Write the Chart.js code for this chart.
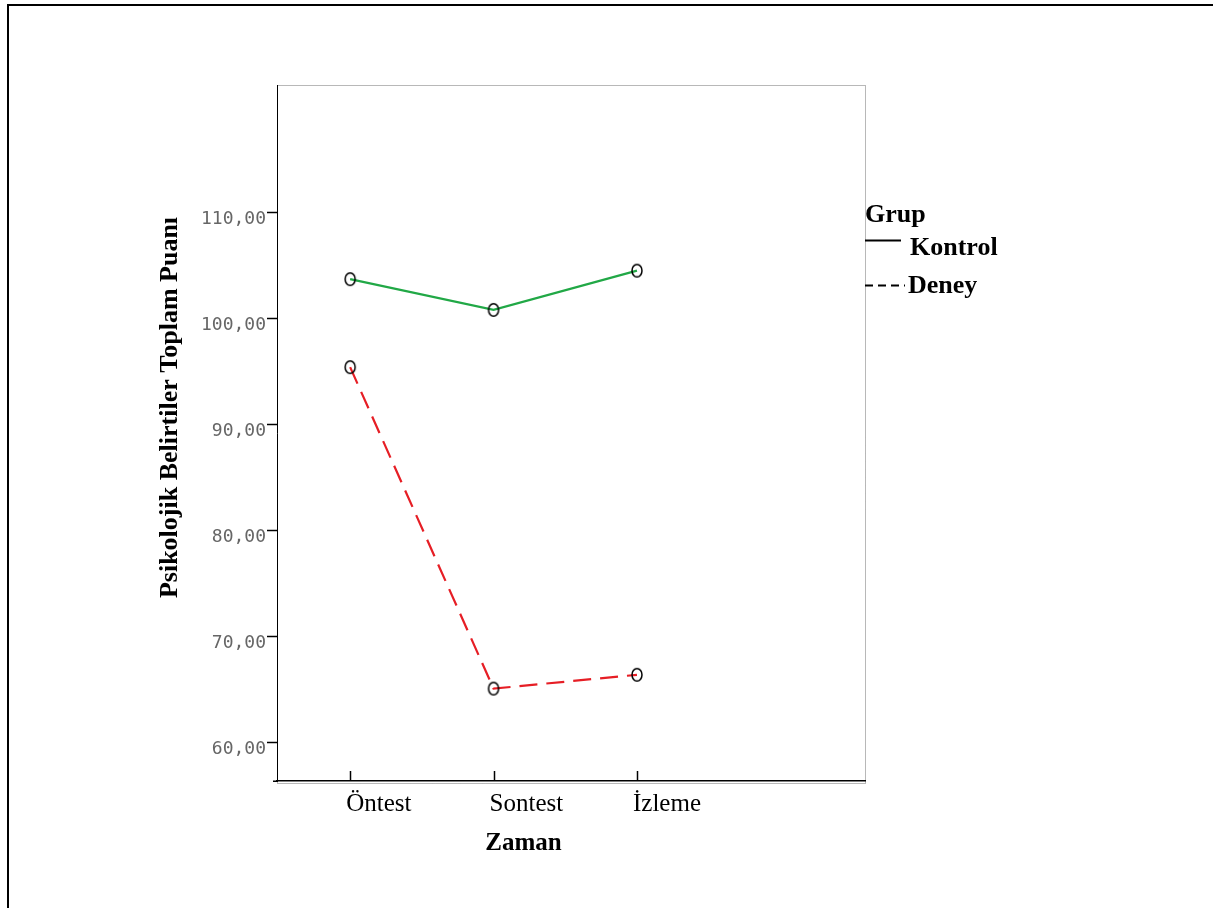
<!DOCTYPE html>
<html>
<head>
<meta charset="utf-8">
<script src="https://cdn.jsdelivr.net/npm/chart.js@4.4.1/dist/chart.umd.min.js"></script>
<style>
  html, body { margin: 0; padding: 0; background: #fff; }
  #wrap { position: relative; width: 1213px; height: 908px; overflow: hidden; }
  #frame { position: absolute; left: 7px; top: 4px; right: -5px; bottom: -5px;
           border-top: 2px solid #000; border-left: 2px solid #000; pointer-events: none; }
  canvas { position: absolute; left: 0; top: 0; }
</style>
</head>
<body>
<div id="wrap">
  <canvas id="c" width="1213" height="908"></canvas>
  <div id="frame"></div>
</div>
<script>
// ---- data ----
const categories = ['Öntest', 'Sontest', 'İzleme'];
const kontrol = [103.7, 100.8, 104.5];
const deney = [95.4, 65.1, 66.4];
const yTicks = [60, 70, 80, 90, 100, 110];
const seriesLabels = ['Kontrol', 'Deney'];
const legendTitle = 'Grup';
const xTitle = 'Zaman';
const yTitle = 'Psikolojik Belirtiler Toplam Puanı';

// ---- marker (open ellipse) ----
function makeMarker() {
  const m = document.createElement('canvas');
  m.width = 16; m.height = 18;
  const g = m.getContext('2d');
  g.strokeStyle = '#000';
  g.lineWidth = 1.5;
  g.beginPath();
  g.ellipse(8, 9, 5, 6.3, 0, 0, Math.PI * 2);
  g.stroke();
  return m;
}
const marker = makeMarker();

const serif = "'Liberation Serif', 'Times New Roman', serif";

const decorPlugin = {
  id: 'decor',
  beforeDraw(chart) {
    const { ctx, chartArea: ca } = chart;
    ctx.save();
    ctx.strokeStyle = '#707070';
    ctx.lineWidth = 1;
    ctx.setLineDash([1, 1]);
    ctx.strokeRect(ca.left + 0.5, ca.top + 0.5, ca.right - ca.left, ca.bottom - ca.top + 2);
    ctx.restore();
  },
  afterDraw(chart) {
    const { ctx, chartArea: ca } = chart;
    const xs = chart.scales.x;
    ctx.save();
    // x axis line slightly extended to the left, as in the reference
    ctx.strokeStyle = '#000';
    ctx.lineWidth = 1.5;
    ctx.beginPath();
    ctx.moveTo(ca.left - 4, ca.bottom + 0.25);
    ctx.lineTo(ca.left, ca.bottom + 0.25);
    ctx.stroke();
    // inward x tick marks
    categories.forEach((c, i) => {
      const px = Math.round(xs.getPixelForValue(i)) + 0.5;
      ctx.beginPath();
      ctx.moveTo(px, ca.bottom - 10);
      ctx.lineTo(px, ca.bottom);
      ctx.stroke();
    });

    // x title centred under the tick labels
    ctx.font = '25px ' + serif;
    const lastW = ctx.measureText(categories[categories.length - 1]).width;
    const left = xs.getPixelForValue(0) - 4;
    const right = xs.getPixelForValue(categories.length - 1) - 4 + lastW;
    ctx.fillStyle = '#000';
    ctx.font = 'bold 25px ' + serif;
    ctx.textAlign = 'center';
    ctx.textBaseline = 'alphabetic';
    ctx.fillText(xTitle, (left + right) / 2, 850);

    // y title
    ctx.save();
    ctx.translate(177, 407.5);
    ctx.rotate(-Math.PI / 2);
    ctx.font = 'bold 26px ' + serif;
    ctx.textAlign = 'center';
    ctx.textBaseline = 'alphabetic';
    ctx.fillText(yTitle, 0, 0);
    ctx.restore();

    // legend
    const lx = ca.right;
    ctx.textAlign = 'left';
    ctx.textBaseline = 'alphabetic';
    ctx.font = 'bold 26px ' + serif;
    ctx.fillText(legendTitle, lx, 222);
    const rows = [
      { lineY: 240.5, lineEnd: 901, textX: 910, textY: 255 },
      { lineY: 285.5, lineEnd: 905, textX: 908, textY: 293 }
    ];
    chart.data.datasets.forEach((ds, i) => {
      const r = rows[i];
      ctx.strokeStyle = '#000';
      ctx.lineWidth = 2;
      ctx.setLineDash(ds.borderDash && ds.borderDash.length ? [8, 5] : []);
      ctx.beginPath();
      ctx.moveTo(lx, r.lineY);
      ctx.lineTo(r.lineEnd, r.lineY);
      ctx.stroke();
      ctx.setLineDash([]);
      ctx.fillText(ds.label, r.textX, r.textY);
    });
    ctx.restore();
  }
};

new Chart(document.getElementById('c'), {
  type: 'line',
  data: {
    datasets: [
      {
        label: seriesLabels[0],
        data: kontrol.map((v, i) => ({ x: i, y: v })),
        borderColor: '#21a846',
        borderWidth: 2.2,
        pointStyle: marker,
        pointRadius: 6,
        tension: 0,
        fill: false
      },
      {
        label: seriesLabels[1],
        data: deney.map((v, i) => ({ x: i, y: v })),
        borderColor: '#e61e25',
        borderWidth: 2.2,
        borderDash: [18, 9],
        pointStyle: marker,
        pointRadius: 6,
        tension: 0,
        fill: false
      }
    ]
  },
  options: {
    responsive: false,
    animation: false,
    events: [],
    layout: { padding: { top: 85, right: 348, left: 0, bottom: 0 } },
    plugins: { legend: { display: false }, tooltip: { enabled: false }, title: { display: false } },
    scales: {
      x: {
        type: 'linear',
        min: -0.51,
        max: 3.59,
        afterBuildTicks: s => { s.ticks = categories.map((c, i) => ({ value: i })); },
        afterFit: s => { s.height = 127; },
        grid: { drawOnChartArea: false, drawTicks: false },
        border: { display: true, color: '#000', width: 1.5 },
        ticks: {
          callback: v => categories[v],
          align: 'start',
          labelOffset: -4,
          padding: 8,
          autoSkip: false,
          maxRotation: 0,
          color: '#000',
          font: { family: serif, size: 25 }
        }
      },
      y: {
        type: 'linear',
        min: 56.39,
        max: 122.0,
        afterBuildTicks: s => { s.ticks = yTicks.map(v => ({ value: v })); },
        afterFit: s => { s.width = 277; },
        grid: { drawOnChartArea: false, drawTicks: true, tickLength: 10, tickColor: '#000', tickWidth: 1.5 },
        border: { display: true, color: '#000', width: 1 },
        ticks: {
          callback: v => v.toFixed(2).replace('.', ','),
          padding: 1,
          labelOffset: 7,
          color: '#666',
          font: { family: "'DejaVu Sans Mono', monospace", size: 18 }
        }
      }
    }
  },
  plugins: [decorPlugin]
});
</script>
</body>
</html>
